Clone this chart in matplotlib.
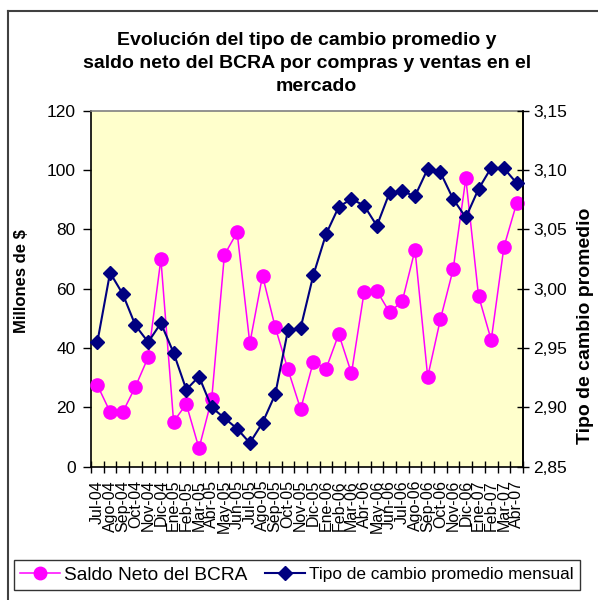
import matplotlib
matplotlib.use("Agg")
import matplotlib.pyplot as plt
from matplotlib.ticker import FuncFormatter
from matplotlib.lines import Line2D

months = ["Jul-04", "Ago-04", "Sep-04", "Oct-04", "Nov-04", "Dic-04",
          "Ene-05", "Feb-05", "Mar-05", "Abr-05", "May-05", "Jun-05",
          "Jul-05", "Ago-05", "Sep-05", "Oct-05", "Nov-05", "Dic-05",
          "Ene-06", "Feb-06", "Mar-06", "Abr-06", "May-06", "Jun-06",
          "Jul-06", "Ago-06", "Sep-06", "Oct-06", "Nov-06", "Dic-06",
          "Ene-07", "Feb-07", "Mar-07", "Abr-07"]

saldo = [27.5, 18.5, 18.4, 27.0, 36.9, 70.0,
         15.2, 21.1, 6.2, 22.8, 71.4, 79.0,
         41.6, 64.4, 47.0, 32.8, 19.4, 35.4,
         33.0, 44.7, 31.5, 59.0, 59.3, 52.0,
         55.8, 73.1, 30.3, 49.7, 66.5, 97.2,
         57.6, 42.7, 74.1, 88.8]

tipo = [2.955, 3.0135, 2.9955, 2.969, 2.955, 2.971,
        2.946, 2.915, 2.926, 2.900, 2.891, 2.882,
        2.870, 2.887, 2.911, 2.965, 2.967, 3.0115,
        3.046, 3.069, 3.0756, 3.070, 3.053, 3.081,
        3.082, 3.078, 3.101, 3.098, 3.0756, 3.060,
        3.084, 3.102, 3.1015, 3.089]

left_ticks = [0, 20, 40, 60, 80, 100, 120]
right_ticks = [2.85, 2.90, 2.95, 3.00, 3.05, 3.10, 3.15]

plt.rcParams['font.family'] = ['Liberation Sans', 'DejaVu Sans']

W, H = 598, 600
fig = plt.figure(figsize=(W / 100, H / 100), dpi=100)

def fx(px):
    return px / W

def fy(py):
    return 1 - py / H

# outer chart border (left and top visible)
fig.add_artist(Line2D([fx(8), fx(8)], [fy(11), fy(600)], color='#404040', lw=1.5))
fig.add_artist(Line2D([fx(8), fx(598)], [fy(11), fy(11)], color='#404040', lw=1.5))

L, R, T, B = 91, 523, 110.7, 466.7
ax = fig.add_axes([fx(L), fy(B), (R - L) / W, (B - T) / H])
ax.set_facecolor('#FFFFCC')

x = list(range(len(months)))
ax.plot(x, saldo, color='#FF00FF', lw=1.1, marker='o', ms=9.5,
        mfc='#FF00FF', mec='#FF00FF', label='Saldo Neto del BCRA',
        clip_on=False, zorder=3)
ax.set_ylim(0, 120)
ax.set_yticks(left_ticks)
ax.set_xlim(-0.5, len(months) - 0.5)
ax.set_xticks(x)
ax.set_xticklabels(months, rotation=90, fontsize=11.5)
ax.set_xticks([i - 0.5 for i in range(len(months) + 1)], minor=True)
ax.tick_params(axis='x', which='major', length=0, pad=9.5)
ax.tick_params(axis='x', which='minor', direction='inout', length=8, width=1)
ax.tick_params(axis='y', direction='out', length=6, width=1, labelsize=12.5, pad=5)
for s in ['left', 'bottom', 'right']:
    ax.spines[s].set_color('black')
    ax.spines[s].set_linewidth(1.2)
ax.spines['top'].set_color('#808080')
ax.spines['top'].set_linewidth(1.2)

ax2 = ax.twinx()
ax2.plot(x, tipo, color='#000080', lw=1.5, marker='D', ms=7,
         mfc='#000080', mec='#000080', label='Tipo de cambio promedio mensual',
         clip_on=False, zorder=3)
ax2.set_ylim(2.85, 3.15)
ax2.set_yticks(right_ticks)
ax2.yaxis.set_major_formatter(FuncFormatter(lambda v, p: f"{v:.2f}".replace('.', ',')))
ax2.tick_params(axis='y', direction='inout', length=9, width=1, labelsize=12.5, pad=3)
ax2.spines['right'].set_color('black')
ax2.spines['right'].set_linewidth(1.2)
ax2.spines['top'].set_visible(False)
ax2.spines['left'].set_visible(False)
ax2.spines['bottom'].set_visible(False)

# titles and axis labels
fig.text(fx(307), fy(45), 'Evolución del tipo de cambio promedio y', ha='center',
         va='baseline', fontsize=14, fontweight='bold')
fig.text(fx(307), fy(68), 'saldo neto del BCRA por compras y ventas en el', ha='center',
         va='baseline', fontsize=14, fontweight='bold')
fig.text(fx(316), fy(91), 'mercado', ha='center',
         va='baseline', fontsize=14, fontweight='bold')
fig.text(fx(22), fy(281), 'Millones de $', rotation=90, ha='center', va='center',
         fontsize=12, fontweight='bold')
fig.text(fx(586), fy(326), 'Tipo de cambio promedio', rotation=90, ha='center',
         va='center', fontsize=14, fontweight='bold')

# legend
h1, l1 = ax.get_legend_handles_labels()
h2, l2 = ax2.get_legend_handles_labels()
fs_px = 17.2
leg = fig.legend(h1 + h2, l1 + l2, loc='center', bbox_to_anchor=(fx(297), fy(575)),
                 ncol=2, frameon=True, fancybox=False, fontsize=12.4,
                 handlelength=40 / fs_px, handletextpad=4 / fs_px,
                 columnspacing=17 / fs_px, borderpad=0.35, markerscale=1.0)
leg.get_frame().set_edgecolor('black')
leg.get_frame().set_linewidth(1.0)
leg.legend_handles[0].set_markersize(9)
leg.legend_handles[1].set_markersize(7)
leg.get_texts()[0].set_fontsize(13.8)

fig.savefig('out.png', dpi=100)
